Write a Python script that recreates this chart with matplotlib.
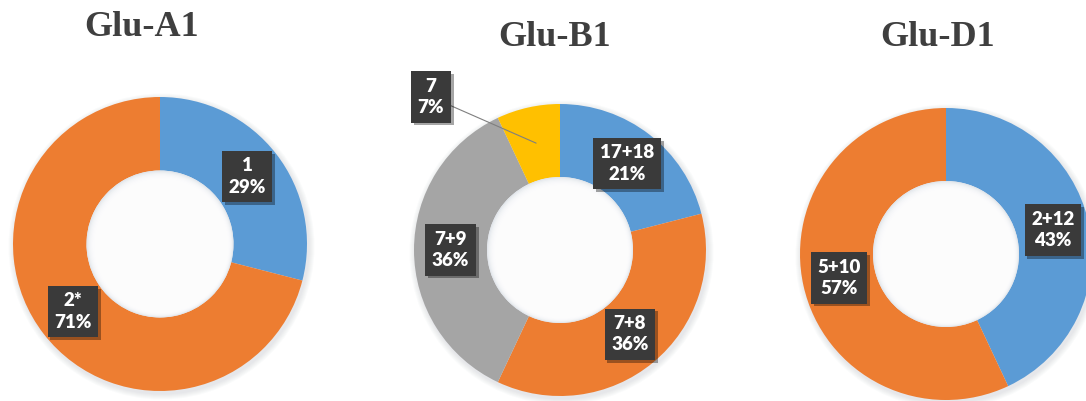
import numpy as np
import matplotlib
matplotlib.use("Agg")
import matplotlib.pyplot as plt
import matplotlib.patheffects as pe
from matplotlib.patches import Circle

# data
titles = ["Glu-A1", "Glu-B1", "Glu-D1"]
a1_labels = ["1", "2*"]
a1_values = [29, 71]
b1_labels = ["17+18", "7+8", "7+9", "7"]
b1_values = [21, 36, 36, 7]
d1_labels = ["2+12", "5+10"]
d1_values = [43, 57]

blue, orange, grey, yellow = "#5B9BD5", "#ED7D31", "#A5A5A5", "#FFC000"
a1_colors = [blue, orange]
b1_colors = [blue, orange, grey, yellow]
d1_colors = [blue, orange]

W, H = 1086, 401
fig = plt.figure(figsize=(W / 100, H / 100), dpi=100)
ax = fig.add_axes([0, 0, 1, 1])

# layout (pixel coords, y from top)
centers = [(160, 244), (560, 250), (946, 254)]
radii = [147, 146, 146]
title_pos = [(142, 27), (555, 38), (938, 37)]

charts = [(a1_labels, a1_values, a1_colors),
          (b1_labels, b1_values, b1_colors),
          (d1_labels, d1_values, d1_colors)]

box_fx = [pe.withSimplePatchShadow(offset=(2, -2), shadow_rgbFace="k", alpha=0.35)]

for i, (labs, vals, cols) in enumerate(charts):
    cx, cy = centers[i]
    cy = H - cy
    r = radii[i]
    # soft shadow around ring
    for k in range(6, 0, -1):
        ax.add_patch(Circle((cx + 1.5, cy - 2.5), r + k, color="#30405a",
                            alpha=0.018, lw=0, zorder=0))
    wedges, _ = ax.pie(vals, colors=cols, startangle=90, counterclock=False,
                       center=(cx, cy), radius=r,
                       wedgeprops=dict(width=0.5 * r, linewidth=0))
    for w in wedges:
        w.set_zorder(1)
    # soft shadow inside the hole
    hr = 0.5 * r
    ax.add_patch(Circle((cx, cy), hr, color="#E3E7EC", lw=0, zorder=2))
    for k in range(1, 12):
        ax.add_patch(Circle((cx + 0.2 * k, cy - 0.25 * k), hr - 0.9 * k, color="white",
                            alpha=0.3, lw=0, zorder=3))

    for w, lab, v in zip(wedges, labs, vals):
        ang = np.deg2rad((w.theta1 + w.theta2) / 2)
        px = cx + 0.75 * r * np.cos(ang)
        py = cy + 0.75 * r * np.sin(ang)
        txt = f"{lab}\n{v}%"
        kw = dict(ha="center", va="center", color="white", fontsize=13.5,
                  fontweight="heavy", family="Lato", linespacing=1.3, zorder=6,
                  bbox=dict(boxstyle="square,pad=0.35", fc="#3A3A3A", ec="none"))
        if v < 10:
            t = ax.annotate(txt, xy=(px, py), xytext=(431, H - 97), **kw,
                            arrowprops=dict(arrowstyle="-", color="#7F7F7F", lw=0.8,
                                            shrinkA=0, shrinkB=0))
        else:
            t = ax.text(px, py, txt, **kw)
        t.get_bbox_patch().set_path_effects(box_fx)

    tx, ty = title_pos[i]
    ax.text(tx, H - ty, titles[i], ha="center", va="center", fontsize=26,
            fontweight="bold", family="Liberation Serif", color="#3F3F3F")

ax.set_xlim(0, W)
ax.set_ylim(0, H)
ax.set_aspect("auto")
ax.axis("off")

fig.savefig("out.png", dpi=100, facecolor="white")
